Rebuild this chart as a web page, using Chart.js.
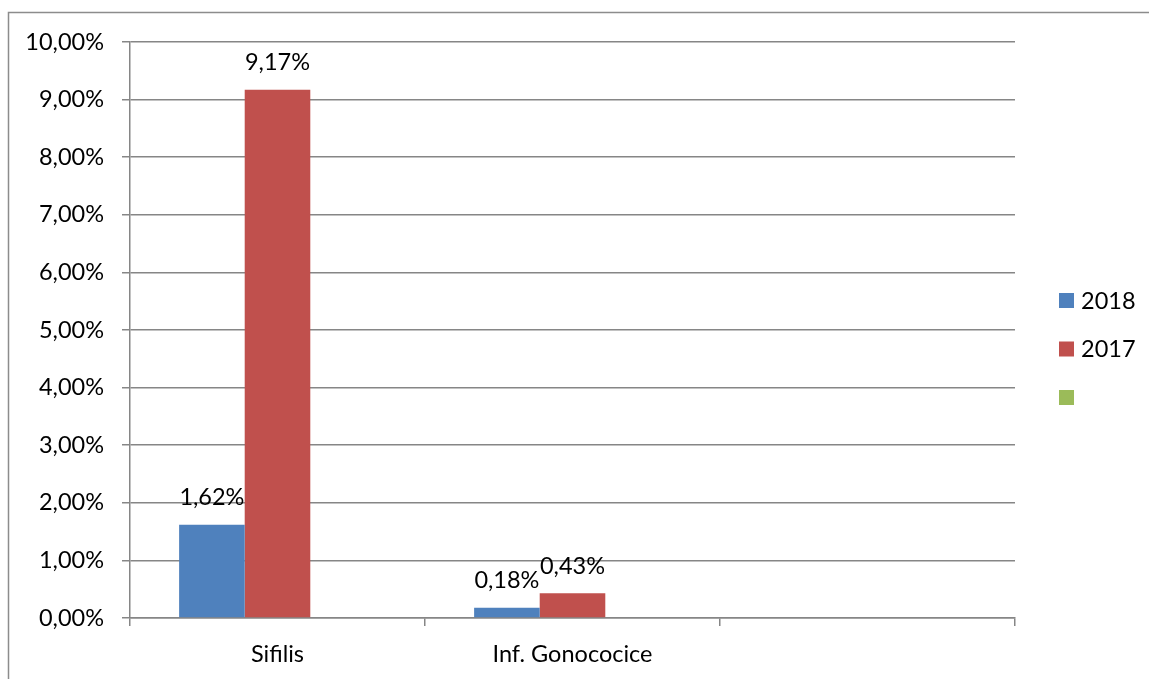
<!DOCTYPE html>
<html>
<head>
<meta charset="utf-8">
<script src="https://cdn.jsdelivr.net/npm/chart.js@4.4.1/dist/chart.umd.min.js"></script>
<style>
  html, body { margin: 0; padding: 0; background: #fff; overflow: hidden; }
  #wrap { position: absolute; left: 0; top: 0; width: 1149px; height: 679px; }
</style>
</head>
<body>
<div id="wrap"><canvas id="chart" width="1149" height="679"></canvas></div>
<script>
// categories and series
const CATEGORIES = ['Sifilis', 'Inf. Gonococice', ''];
const SERIES_LABELS = ['2018', '2017', ''];
const VALUES_2018 = [1.62, 0.18, null];
const VALUES_2017 = [9.17, 0.43, null];
const VALUES_EMPTY = [null, null, null];
const Y_TICKS = [0, 1, 2, 3, 4, 5, 6, 7, 8, 9, 10];

const COLORS = ['#4F81BD', '#C0504D', '#9BBB59'];
const FONT = 'Lato';
const TEXT_SIZE = 23.5;

function pct(v) {
    return v.toFixed(2).replace('.', ',') + '%';
}

// outer frame like the office chart border
const framePlugin = {
    id: 'frame',
    beforeDraw(chart) {
        const ctx = chart.ctx;
        ctx.save();
        ctx.strokeStyle = '#8c8c8c';
        ctx.lineWidth = 1.5;
        ctx.beginPath();
        ctx.moveTo(8.5, 700);
        ctx.lineTo(8.5, 12.5);
        ctx.lineTo(1200, 12.5);
        ctx.stroke();
        ctx.restore();
    }
};

// value labels above each bar
const valueLabels = {
    id: 'valueLabels',
    afterDatasetsDraw(chart) {
        const ctx = chart.ctx;
        ctx.save();
        ctx.font = TEXT_SIZE + 'px ' + FONT;
        ctx.fillStyle = '#000';
        ctx.textAlign = 'center';
        ctx.textBaseline = 'middle';
        chart.data.datasets.forEach((ds, i) => {
            const meta = chart.getDatasetMeta(i);
            meta.data.forEach((bar, j) => {
                const v = ds.data[j];
                if (v === null || v === undefined) return;
                ctx.fillText(pct(v), bar.x, bar.y - 27);
            });
        });
        ctx.restore();
    }
};

// legend on the right, drawn from the datasets
const sideLegend = {
    id: 'sideLegend',
    afterDraw(chart) {
        const ctx = chart.ctx;
        ctx.save();
        ctx.font = TEXT_SIZE + 'px ' + FONT;
        ctx.textBaseline = 'middle';
        ctx.textAlign = 'left';
        chart.data.datasets.forEach((ds, i) => {
            const y = 300 + i * 48.5;
            ctx.fillStyle = ds.backgroundColor;
            ctx.fillRect(1059, y - 7, 15, 15);
            ctx.fillStyle = '#000';
            ctx.fillText(ds.label, 1081, y + 1);
        });
        ctx.restore();
    }
};

const ctx = document.getElementById('chart').getContext('2d');
const chart = new Chart(ctx, {
    type: 'bar',
    data: {
        labels: CATEGORIES,
        datasets: [
            { label: SERIES_LABELS[0], data: VALUES_2018, backgroundColor: COLORS[0] },
            { label: SERIES_LABELS[1], data: VALUES_2017, backgroundColor: COLORS[1] },
            { label: SERIES_LABELS[2], data: VALUES_EMPTY, backgroundColor: COLORS[2] }
        ]
    },
    options: {
        responsive: false,
        animation: false,
        datasets: {
            bar: { categoryPercentage: 0.667, barPercentage: 1.0 }
        },
        layout: { padding: { top: 42, right: 134, left: 0, bottom: 0 } },
        plugins: {
            legend: { display: false },
            tooltip: { enabled: false }
        },
        scales: {
            x: {
                offset: true,
                grid: {
                    offset: true,
                    drawOnChartArea: false,
                    drawTicks: true,
                    tickLength: 8,
                    color: '#868686',
                    lineWidth: 1.5
                },
                border: { color: '#868686', width: 1.5 },
                ticks: {
                    color: '#000',
                    padding: 14,
                    font: { family: FONT, size: TEXT_SIZE },
                    maxRotation: 0
                },
                afterFit(scale) { scale.height = 61; }
            },
            y: {
                min: 0,
                max: 10,
                afterBuildTicks(scale) {
                    scale.ticks = Y_TICKS.map(v => ({ value: v }));
                },
                grid: {
                    color: '#868686',
                    lineWidth: 1.5,
                    drawTicks: true,
                    tickLength: 8
                },
                border: { color: '#868686', width: 1.5 },
                ticks: {
                    color: '#000',
                    padding: 18,
                    font: { family: FONT, size: TEXT_SIZE },
                    callback: v => pct(v)
                },
                afterFit(scale) { scale.width = 130; }
            }
        }
    },
    plugins: [framePlugin, valueLabels, sideLegend]
});
</script>
</body>
</html>
